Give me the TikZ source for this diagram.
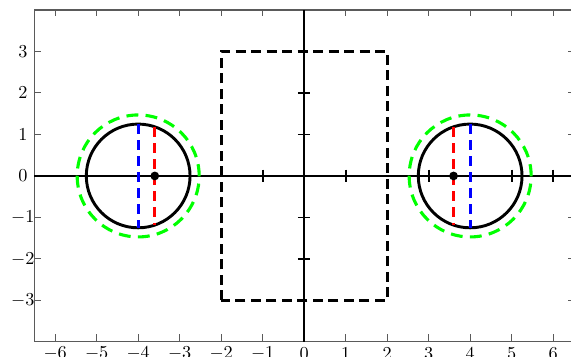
\documentclass[tikz,border=0pt]{standalone}
\usepackage{xcolor}
\usepackage{tikz}
\definecolor{myframe}{RGB}{90,90,90}
\tikzset{
  frame/.style={draw=myframe, line width=0.6pt},
  frametick/.style={draw=myframe, line width=0.6pt},
  axisline/.style={draw=black, line width=0.75pt},
  axistick/.style={draw=black, line width=1pt},
  cutbox/.style={draw=black, line width=1.7pt, dash pattern=on 5.5pt off 3pt, line join=miter},
  ring/.style={draw=black, line width=1.6pt},
  halo/.style={draw=green, line width=1.7pt, dash pattern=on 6.5pt off 4pt},
  bluecut/.style={draw=blue, line width=1.5pt, dash pattern=on 5.5pt off 3.3pt},
  redcut/.style={draw=red, line width=1.5pt, dash pattern=on 5.5pt off 3.3pt},
  dot/.style={circle, fill=black, inner sep=0pt, minimum size=4.8pt},
  ticklabel/.style={inner sep=0pt, font=\normalsize}
}

\begin{document}
\begin{tikzpicture}[x=0.8cm, y=0.8cm]
  \clip (-7.33,-4.34) rectangle (6.43,4.24);

  % frame and its ticks
  \draw [frame] (-6.5,-4) rectangle (6.5,4);
  \foreach \x in {-6,...,6} {
    \draw [frametick] (\x,4) -- (\x,3.85);
    \draw [frametick] (\x,-4) -- (\x,-3.8);
    \node [ticklabel] (xl\x) at (\x,-4.27) {$\x$};
  }
  \foreach \y in {-3,...,3} {
    \draw [frametick] (-6.5,\y) -- (-6.35,\y);
    \draw [frametick] (6.5,\y) -- (6.35,\y);
    \node [ticklabel] (yl\y) at (-6.78,\y) {$\y$};
  }

  % axes through the origin
  \coordinate (o) at (0,0);
  \draw [axisline] (-6.5,0) -- (6.5,0);
  \draw [axisline] (0,-4) -- (0,4);
  \foreach \x in {-1,1,3,5,6}
    \draw [axistick] (\x,0.15) -- (\x,-0.15);
  \foreach \y in {-2,-1,1,2}
    \draw [axistick] (-0.15,\y) -- (0.15,\y);

  % dashed box
  \draw [cutbox] (-2,-3) rectangle (2,3);

  % left and right circles
  \coordinate (lc) at (-4,0);
  \coordinate (rc) at (4,0);
  \draw [halo] (lc) circle (1.47);
  \draw [halo] (rc) circle (1.47);
  \draw [ring] (lc) circle (1.25);
  \draw [ring] (rc) circle (1.25);

  \draw [bluecut] (-4,1.25) -- (-4,-1.25);
  \draw [bluecut] (4,1.25) -- (4,-1.25);
  \draw [redcut] (-3.6,1.18) -- (-3.6,-1.18);
  \draw [redcut] (3.6,1.18) -- (3.6,-1.18);

  \node [dot] (ld) at (-3.6,0) {};
  \node [dot] (rd) at (3.6,0) {};
\end{tikzpicture}
\end{document}
